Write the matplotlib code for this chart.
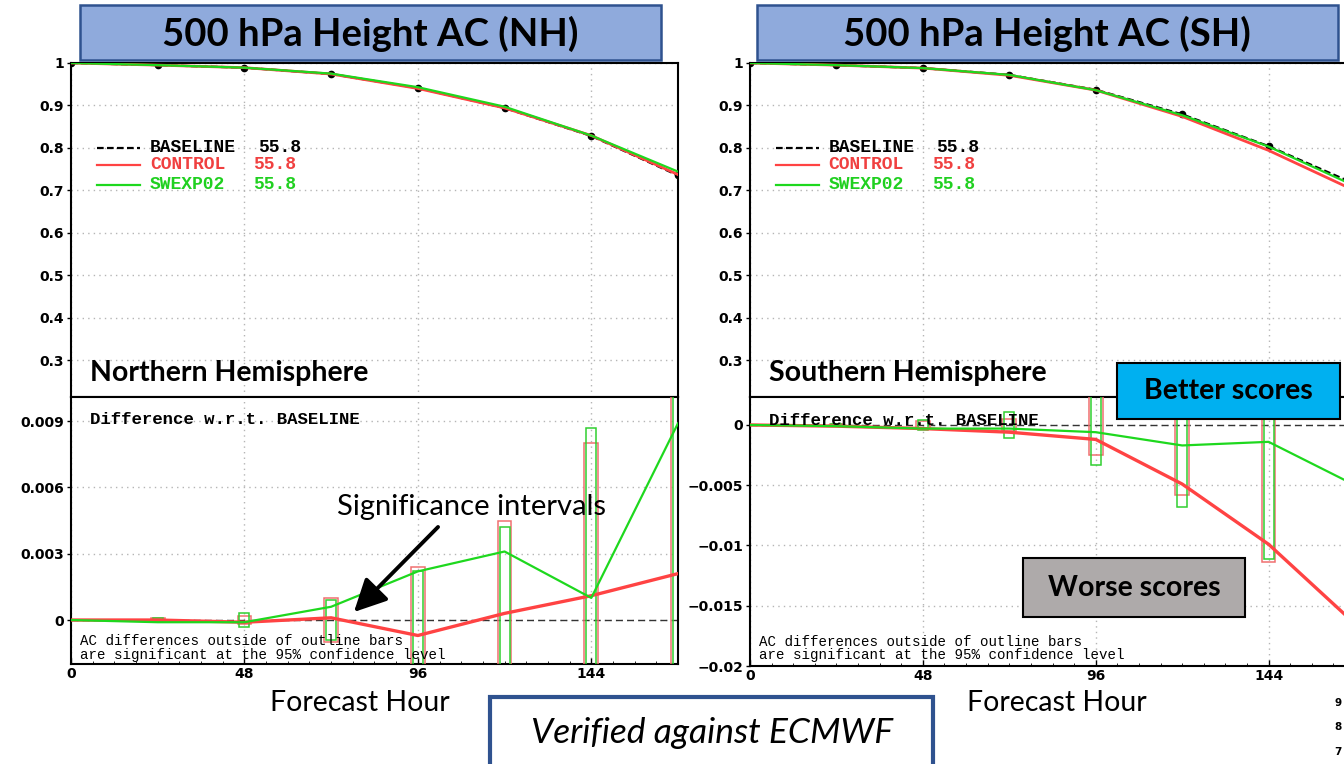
import matplotlib
matplotlib.use("Agg")
import matplotlib.pyplot as plt
from matplotlib.patches import Rectangle, FancyArrowPatch

# Forecast hours and anomaly correlation values
hours = [0, 24, 48, 72, 96, 120, 144, 168]
xticks = [0, 48, 96, 144]

# Northern Hemisphere AC
nh_baseline = [1.0, 0.995, 0.989, 0.974, 0.941, 0.894, 0.828, 0.735]
nh_control = [1.0, 0.995, 0.989, 0.974, 0.940, 0.894, 0.829, 0.737]
nh_swexp02 = [1.0, 0.995, 0.989, 0.975, 0.943, 0.897, 0.829, 0.744]

# Southern Hemisphere AC
sh_baseline = [1.0, 0.995, 0.988, 0.972, 0.937, 0.879, 0.804, 0.715]
sh_control = [1.0, 0.995, 0.988, 0.971, 0.936, 0.874, 0.794, 0.699]
sh_swexp02 = [1.0, 0.995, 0.988, 0.972, 0.936, 0.877, 0.803, 0.710]

# Differences w.r.t. BASELINE
nh_ctl_diff = [0.0, 0.0, -0.0001, 0.0001, -0.0007, 0.0003, 0.0011, 0.0021]
nh_exp_diff = [0.0, -0.0001, -0.0001, 0.0006, 0.0022, 0.0031, 0.0010, 0.0089]
sh_ctl_diff = [0.0, -0.0001, -0.0003, -0.0006, -0.0012, -0.0049, -0.0099, -0.0165]
sh_exp_diff = [0.0, -0.0001, -0.0003, -0.0003, -0.0006, -0.0017, -0.0014, -0.0050]

# Half-widths of the 95% significance intervals
nh_ctl_sig = [0.0, 0.0001, 0.0002, 0.0010, 0.0024, 0.0045, 0.0080, 0.0125]
nh_exp_sig = [0.0, 0.0001, 0.0003, 0.0009, 0.0022, 0.0042, 0.0087, 0.0122]
sh_ctl_sig = [0.0, 0.0001, 0.0003, 0.0005, 0.0025, 0.0058, 0.0114, 0.0170]
sh_exp_sig = [0.0, 0.0001, 0.0004, 0.0011, 0.0033, 0.0068, 0.0111, 0.0170]

legend_names = ["BASELINE", "CONTROL", "SWEXP02"]
legend_scores = ["55.8", "55.8", "55.8"]

RED = "#ff4343"
GREEN = "#1ed81e"
RED_TXT = "#f04040"
GREEN_TXT = "#20d020"
SIG_RED = "#f07070"
SIG_GREEN = "#30d030"
GRID = dict(color="#b5b5b5", linestyle=(0, (1, 3)), linewidth=1.0)
MONO = "Liberation Mono"
BIG = "Lato"

W, H = 1344, 764
fig = plt.figure(figsize=(W / 100, H / 100), dpi=100)


def rect_px(x0, y0, x1, y1):
    return [x0 / W, 1 - y1 / H, (x1 - x0) / W, (y1 - y0) / H]


def pt(x, y):
    return (x / W, 1 - y / H)


def style_axes(ax):
    for s in ax.spines.values():
        s.set_linewidth(1.5)
        s.set_color("black")
    ax.tick_params(axis="y", direction="out", length=3, width=1, pad=2,
                   labelsize=10)
    ax.tick_params(axis="x", direction="in", length=4, width=1, pad=2,
                   labelsize=10)
    for lab in ax.get_yticklabels() + ax.get_xticklabels():
        lab.set_fontweight("bold")


def draw_ac(ax, base, ctl, exp, region):
    ax.plot(hours, base, color="black", lw=1.6, ls=(0, (3, 1.5)),
            marker="o", ms=4.5, zorder=3)
    ax.plot(hours, ctl, color=RED, lw=2.0, zorder=4)
    ax.plot(hours, exp, color=GREEN, lw=1.6, zorder=5)
    ax.set_xlim(0, 168)
    ax.set_ylim(0.2128, 1.0)
    yt = [0.3, 0.4, 0.5, 0.6, 0.7, 0.8, 0.9, 1.0]
    ax.set_yticks(yt)
    ax.set_yticklabels(["0.3", "0.4", "0.5", "0.6", "0.7", "0.8", "0.9", "1"])
    ax.set_xticks(xticks)
    ax.grid(True, **GRID)
    style_axes(ax)
    ax.tick_params(axis="x", labelbottom=False, length=0)

    # legend drawn as GrADS-style text
    ys = [0.7997, 0.7596, 0.7125]
    lcolors = ["black", RED, GREEN]
    tcolors = ["black", RED_TXT, GREEN_TXT]
    styles = [(0, (3, 1.5)), "-", "-"]
    for i in range(3):
        ax.plot([7.2, 19.2], [ys[i], ys[i]], color=lcolors[i], lw=1.6,
                ls=styles[i], zorder=6)
        ax.text(21.8, ys[i], legend_names[i], color=tcolors[i], family=MONO,
                fontweight="bold", fontsize=13, va="center", ha="left")
        ax.text(51.8 if i == 0 else 50.5, ys[i], legend_scores[i],
                color=tcolors[i], family=MONO, fontweight="bold",
                fontsize=13, va="center", ha="left")
    ax.text(0.031, 0.072, region, transform=ax.transAxes, family=BIG,
            fontweight="bold", fontsize=20.5, va="center", ha="left")


def draw_diff(ax, ctl_d, exp_d, ctl_s, exp_s, ylim, yt, ylabels, note_y):
    ax.axhline(0, color="#333333", lw=1.0, ls=(0, (5, 3)), zorder=2)
    for h, s in zip(hours, ctl_s):
        if s > 0:
            ax.add_patch(Rectangle((h - 1.9, -s), 3.8, 2 * s, fill=False,
                                   edgecolor=SIG_RED, lw=1.1, zorder=3))
    for h, s in zip(hours, exp_s):
        if s > 0:
            ax.add_patch(Rectangle((h - 1.4, -s), 2.8, 2 * s, fill=False,
                                   edgecolor=SIG_GREEN, lw=1.1, zorder=3))
    ax.plot(hours, ctl_d, color=RED, lw=2.4, zorder=4)
    ax.plot(hours, exp_d, color=GREEN, lw=1.6, zorder=5)
    ax.set_xlim(0, 168)
    ax.set_ylim(*ylim)
    ax.set_yticks(yt)
    ax.set_yticklabels(ylabels)
    ax.set_xticks(xticks)
    ax.set_xticks(range(0, 169, 6), minor=True)
    ax.set_xticklabels([str(x) for x in xticks])
    ax.grid(True, **GRID)
    style_axes(ax)
    ax.tick_params(axis="x", which="minor", direction="in", length=2)
    ax.text(0.031, 0.914, "Difference w.r.t. BASELINE", transform=ax.transAxes,
            family=MONO, fontweight="bold", fontsize=12.5, va="center",
            ha="left", zorder=7)
    ax.text(0.015, note_y[0], "AC differences outside of outline bars",
            transform=ax.transAxes, family=MONO, fontsize=10.2, va="center",
            ha="left", zorder=7)
    ax.text(0.015, note_y[1], "are significant at the 95% confidence level",
            transform=ax.transAxes, family=MONO, fontsize=10.2, va="center",
            ha="left", zorder=7)


# Northern Hemisphere panels
ax_nh = fig.add_axes(rect_px(71, 63, 678, 397))
draw_ac(ax_nh, nh_baseline, nh_control, nh_swexp02, "Northern Hemisphere")
ax_nhd = fig.add_axes(rect_px(71, 397, 678, 664))
draw_diff(ax_nhd, nh_ctl_diff, nh_exp_diff, nh_ctl_sig, nh_exp_sig,
          (-0.00199, 0.01009), [0, 0.003, 0.006, 0.009],
          ["0", "0.003", "0.006", "0.009"], (0.086, 0.034))

# Southern Hemisphere panels (run past the right edge)
ax_sh = fig.add_axes(rect_px(750, 63, 1355, 397))
draw_ac(ax_sh, sh_baseline, sh_control, sh_swexp02, "Southern Hemisphere")
ax_shd = fig.add_axes(rect_px(750, 397, 1355, 666))
draw_diff(ax_shd, sh_ctl_diff, sh_exp_diff, sh_ctl_sig, sh_exp_sig,
          (-0.02, 0.00232), [-0.02, -0.015, -0.01, -0.005, 0],
          ["\u22120.02", "\u22120.015", "\u22120.01", "\u22120.005", "0"],
          (0.089, 0.041))


def fig_box(x0, y0, x1, y1, face, edge, lw):
    fig.add_artist(Rectangle(pt(x0, y1), (x1 - x0) / W, (y1 - y0) / H,
                             transform=fig.transFigure, facecolor=face,
                             edgecolor=edge, lw=lw, zorder=10))


# Title banners
fig_box(80, 5, 661, 60, "#8faadc", "#2f528f", 1.8)
fig.text(*pt(370, 34), "500 hPa Height AC (NH)", family=BIG, fontweight="bold",
         fontsize=27.5, ha="center", va="center", zorder=11)
fig_box(757, 5, 1338, 60, "#8faadc", "#2f528f", 1.8)
fig.text(*pt(1047, 34), "500 hPa Height AC (SH)", family=BIG,
         fontweight="bold", fontsize=27.5, ha="center", va="center", zorder=11)

# Annotation boxes
fig_box(1117, 363, 1340, 419, "#00b0f0", "black", 1.5)
fig.text(*pt(1228, 391), "Better scores", family=BIG, fontweight="bold",
         fontsize=20.5, ha="center", va="center", zorder=11)
fig_box(1023, 558, 1245, 617, "#aeaaaa", "black", 1.5)
fig.text(*pt(1134, 588), "Worse scores", family=BIG, fontweight="bold",
         fontsize=20.5, ha="center", va="center", zorder=11)

fig.text(*pt(472, 507), "Significance intervals", family=BIG, fontsize=21,
         ha="center", va="center", zorder=11)
fig.add_artist(FancyArrowPatch(pt(440, 525), pt(352, 614),
                               transform=fig.transFigure,
                               arrowstyle="-|>,head_length=0.9,head_width=0.45",
                               mutation_scale=22, lw=2.8, color="black",
                               zorder=11))

# Axis captions
fig.text(*pt(360, 703), "Forecast Hour", family=BIG, fontsize=20.5,
         ha="center", va="center", zorder=11)
fig.text(*pt(1057, 703), "Forecast Hour", family=BIG, fontsize=20.5,
         ha="center", va="center", zorder=11)

fig_box(490, 697, 933, 780, "white", "#2f528f", 3)
fig.text(*pt(712, 733), "Verified against ECMWF", family=BIG, style="italic",
         fontsize=25.5, ha="center", va="center", zorder=11)

for y, s in [(703, "9"), (727, "8"), (752, "7")]:
    fig.text(*pt(1338, y), s, fontsize=7.5, fontweight="bold", ha="center",
             va="center", zorder=11)

fig.savefig("out.png", dpi=100)
